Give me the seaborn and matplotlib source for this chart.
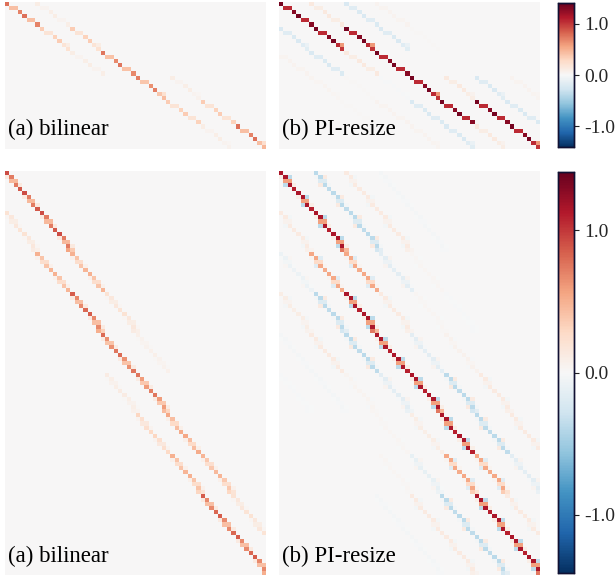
import numpy as np
import matplotlib
matplotlib.use('Agg')
import matplotlib.pyplot as plt
import seaborn as sns

# --- DATA: resize matrices, one amplitude per band and row segment ---
n_cols = 60
n_rows_top = 36
n_rows_bottom = 100
cols_per_block = 15

# top matrices: 12 rows cover 15 columns
top_edges = [0, 6, 12, 18, 24, 30, 36]
top_phase_cols = [[0], [1, 2], [3], [4], [5, 6], [7], [8], [9, 10], [11], [12], [13, 14], [14]]
top_bilinear_weights = [[1.0], [0.55, 0.55], [0.9]] * 3 + [[1.0], [0.55, 0.3], [0.6]]
top_pi_weights = [[1.0], [0.78, 0.78], [0.95]] * 3 + [[1.0], [0.78, 0.45], [0.75]]

top_bilinear = {
    0:  [0.78, 0.36, 0.10, 0, 0, 0],
    7:  [0.10, 0.36, 0.75, 0.72, 0.36, 0.10],
    15: [0, 0, 0, 0.10, 0.36, 0.78],
}
top_pi = {
    -16: [0, 0, 0.05, 0.04, 0.02, 0],
    -8:  [0, -0.22, -0.22, 0.02, 0.05, 0.05],
    0:   [1.35, 1.35, 0.14, -0.02, -0.22, -0.22],
    7:   [0.14, 1.35, 1.35, 1.35, 1.35, 0.14],
    15:  [-0.22, -0.22, 0, 0.14, 1.35, 1.35],
    22:  [0.05, 0.02, 0, -0.22, -0.22, -0.05],
    30:  [0, 0, 0, 0.05, 0.05, 0.02],
}

# bottom matrices: 20 rows cover 15 columns
bottom_edges = [0, 20, 30, 40, 50, 60, 70, 80, 100]
bottom_phase_cols = [[0], [0, 1, 2], [1, 2], [1, 2, 3], [3],
                     [4], [4, 5, 6], [5, 6], [5, 6, 7], [7],
                     [8], [8, 9, 10], [9, 10], [9, 10, 11], [11],
                     [12], [12, 13, 14], [13, 14], [13, 14, 15], [14, 15]]
bottom_bilinear_weights = ([[1.0], [0.15, 0.8, 0], [0.5, 0.5], [0, 0.8, 0.15], [0.95]] * 3
                           + [[1.0], [0.15, 0.8, 0], [0.5, 0.5], [0, 0.8, 0.15], [0.6, 0.4]])
bottom_pi_weights = ([[1.0], [0.08, 1.0, -0.32], [0.5, 0.5], [-0.32, 1.0, 0.08], [0.95]] * 3
                     + [[1.0], [0.08, 1.0, -0.32], [0.5, 0.5], [-0.32, 1.0, 0.08], [0.65, 0.4]])

bottom_bilinear = {
    0:   [0.92, 0.5, 0.2, 0.08, 0, 0, 0, 0],
    -8:  [0.2, 0.5, 0.85, 0.8, 0.75, 0.55, 0.48, 0.2],
    -15: [0, 0, 0, 0, 0.12, 0.3, 0.5, 0.85],
}
bottom_pi = {
    23:  [-0.03, 0, 0, 0, 0, 0, 0, 0],
    15:  [0.13, 0.03, -0.02, 0, 0, 0, 0, 0],
    8:   [-0.38, -0.15, 0.03, 0.06, 0.13, 0.13, 0.06, 0.03],
    0:   [1.15, 0.55, 0.13, -0.15, -0.38, -0.38, -0.15, 0],
    -8:  [0.13, 0.55, 1.15, 1.15, 1.15, 1.15, 0.55, 0.13],
    -15: [0, -0.08, -0.38, -0.38, -0.15, 0.1, 0.55, 1.15],
    -23: [0, 0, 0.1, 0.13, 0.04, 0.03, -0.12, -0.38],
    -30: [0, 0, 0, -0.03, -0.03, 0, 0.03, 0.13],
    -38: [0, 0, 0, 0, -0.02, 0, 0, -0.03],
}

label_a = '(a) bilinear'
label_b = '(b) PI-resize'
cbar_ticks = [-1.0, 0.0, 1.0]
cbar_labels = ['-1.0', '0.0', '1.0']
v_limit = 1.41

# --- PENGATURAN ---
W, H = 616, 577
sns.set_style('white')
plt.rcParams['font.family'] = ['Liberation Serif', 'DejaVu Serif']


def build_matrix(n_rows, bands, edges, phase_cols, phase_weights):
    mat = np.zeros((n_rows, n_cols))
    period = len(phase_cols)
    for offset, amps in bands.items():
        for amp, start, stop in zip(amps, edges[:-1], edges[1:]):
            for r in range(start, stop):
                ph = r % period
                base = (r // period) * cols_per_block
                for dc, w in zip(phase_cols[ph], phase_weights[ph]):
                    c = base + dc + offset
                    if 0 <= c < n_cols:
                        mat[r, c] += amp * w
    return mat


def px_axes(fig, x0, y0, x1, y1):
    return fig.add_axes([x0 / W, 1 - y1 / H, (x1 - x0) / W, (y1 - y0) / H])


def draw_panel(fig, mat, box, cax=None):
    ax = px_axes(fig, *box)
    sns.heatmap(mat, ax=ax, cmap='RdBu_r', vmin=-v_limit, vmax=v_limit,
                xticklabels=False, yticklabels=False,
                cbar=cax is not None, cbar_ax=cax, rasterized=True)
    ax.tick_params(length=0)
    return ax


def style_cbar(cax):
    cax.set_yticks(cbar_ticks)
    cax.set_yticklabels(cbar_labels, fontsize=14)
    cax.tick_params(axis='y', length=3.6, width=0.8, pad=3.5, color='#222222', right=True, labelright=True)
    for s in cax.spines.values():
        s.set_visible(True)
        s.set_linewidth(1)
        s.set_edgecolor('#111133')


fig = plt.figure(figsize=(W / 100, H / 100), dpi=100)

top_a = build_matrix(n_rows_top, top_bilinear, top_edges, top_phase_cols, top_bilinear_weights)
top_b = build_matrix(n_rows_top, top_pi, top_edges, top_phase_cols, top_pi_weights)
bot_a = build_matrix(n_rows_bottom, bottom_bilinear, bottom_edges, bottom_phase_cols, bottom_bilinear_weights)
bot_b = build_matrix(n_rows_bottom, bottom_pi, bottom_edges, bottom_phase_cols, bottom_pi_weights)

cax_top = px_axes(fig, 558, 3, 574, 147)
cax_bot = px_axes(fig, 558, 172, 574, 573)

draw_panel(fig, top_a, (5, 2, 266, 149))
draw_panel(fig, top_b, (279, 2, 540, 149), cax_top)
draw_panel(fig, bot_a, (5, 171, 266, 575))
draw_panel(fig, bot_b, (279, 171, 540, 575), cax_bot)
style_cbar(cax_top)
style_cbar(cax_bot)

for x, y, txt in [(8, 135, label_a), (282, 135, label_b), (8, 562.5, label_a), (282, 562.5, label_b)]:
    fig.text(x / W, 1 - y / H, txt, fontsize=16.5, color='black', ha='left', va='baseline')

fig.savefig('out.png', dpi=100, facecolor='white')
plt.close(fig)
